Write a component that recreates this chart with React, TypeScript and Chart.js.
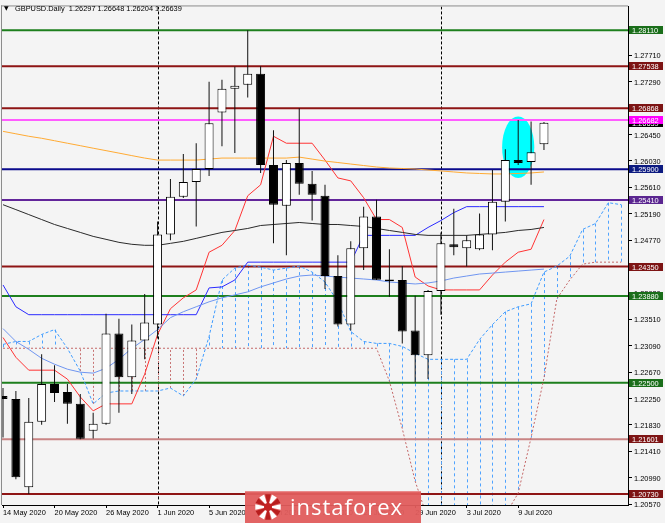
import React, { useEffect, useRef } from 'react';
import { Chart, registerables } from 'chart.js';

Chart.register(...registerables);

// ---------- data ----------
const symbolTitle = 'GBPUSD.Daily';

const openP = [1.22291,1.22244,1.20840,1.21881,1.22480,1.22354,1.22165,1.21739,1.21849,1.23284,1.22590,1.23174,1.23426,1.24861,1.25461,1.25697,1.25902,1.26801,1.27180,1.27243,1.27416,1.25965,1.25319,1.25997,1.25666,1.25476,1.24199,1.23426,1.24641,1.25145,1.24145,1.24136,1.23332,1.22937,1.23962,1.24704,1.24641,1.24625,1.24861,1.25382,1.26044,1.26013,1.26297];
const highP = [1.22417,1.22370,1.22259,1.22953,1.22780,1.22480,1.22322,1.22023,1.23600,1.23521,1.23426,1.23915,1.25066,1.25744,1.26139,1.26312,1.27290,1.27321,1.27527,1.28110,1.27538,1.26517,1.26044,1.26868,1.25871,1.25650,1.24530,1.24751,1.25303,1.25413,1.24625,1.24357,1.23884,1.23978,1.24893,1.25271,1.24846,1.25193,1.25886,1.26218,1.26682,1.26659,1.26648];
const lowP = [1.21629,1.20966,1.20730,1.21834,1.22196,1.21849,1.21601,1.21613,1.21834,1.22023,1.22322,1.22874,1.23206,1.24767,1.25440,1.24988,1.25792,1.26265,1.26155,1.27038,1.25839,1.24719,1.24530,1.25492,1.25082,1.23994,1.23395,1.23332,1.24294,1.24136,1.23868,1.23127,1.22510,1.22559,1.23584,1.24530,1.24350,1.24610,1.24609,1.25066,1.25965,1.25650,1.26204];
const closeP = [1.22244,1.20998,1.21881,1.22480,1.22338,1.22165,1.21610,1.21849,1.23284,1.22590,1.23174,1.23458,1.24861,1.25461,1.25697,1.25902,1.26628,1.27180,1.27227,1.27416,1.25965,1.25334,1.25997,1.25666,1.25492,1.24199,1.23426,1.24641,1.25145,1.24140,1.24115,1.23316,1.22937,1.23962,1.24719,1.24656,1.24767,1.24861,1.25382,1.26044,1.25997,1.26170,1.26639];

const tenkan = [1.23221,1.22906,1.22701,1.22701,1.22701,1.22559,1.22275,1.22054,1.22165,1.22165,1.22165,1.22638,1.23269,1.23679,1.23852,1.23978,1.24578,1.24688,1.24924,1.25476,1.25650,1.26423,1.26312,1.26312,1.26312,1.26044,1.25760,1.25713,1.25445,1.25098,1.25098,1.24972,1.24183,1.24041,1.23978,1.23978,1.23978,1.23978,1.24215,1.24420,1.24578,1.24625,1.25098];
const kijun = [1.24057,1.23710,1.23584,1.23584,1.23584,1.23584,1.23584,1.23584,1.23584,1.23584,1.23584,1.23584,1.23584,1.23584,1.23584,1.23584,1.24010,1.24026,1.24136,1.24420,1.24420,1.24420,1.24420,1.24420,1.24420,1.24420,1.24420,1.24420,1.24846,1.24846,1.24846,1.24846,1.24846,1.24972,1.25082,1.25208,1.25303,1.25303,1.25303,1.25303,1.25303,1.25303,1.25303];
const maBlue = [1.23363,1.23158,1.23032,1.22890,1.22796,1.22717,1.22669,1.22654,1.22732,1.22874,1.23048,1.23190,1.23347,1.23537,1.23631,1.23710,1.23789,1.23852,1.23899,1.23947,1.24026,1.24089,1.24152,1.24199,1.24215,1.24199,1.24183,1.24167,1.24152,1.24136,1.24104,1.24089,1.24073,1.24089,1.24120,1.24167,1.24199,1.24231,1.24246,1.24262,1.24278,1.24294,1.24309];
const maBlack = [1.25334,1.25256,1.25177,1.25098,1.25019,1.24956,1.24893,1.24830,1.24783,1.24735,1.24704,1.24688,1.24688,1.24719,1.24751,1.24798,1.24846,1.24893,1.24924,1.24956,1.25003,1.25019,1.25035,1.25051,1.25035,1.25019,1.25019,1.25003,1.24988,1.24956,1.24924,1.24893,1.24861,1.24846,1.24846,1.24846,1.24846,1.24861,1.24877,1.24893,1.24924,1.24940,1.24972];
const maOrange = [1.26501,1.26462,1.26423,1.26391,1.26352,1.26312,1.26273,1.26233,1.26194,1.26155,1.26115,1.26076,1.26044,1.26044,1.26044,1.26044,1.26060,1.26076,1.26076,1.26076,1.26076,1.26076,1.26076,1.26091,1.26060,1.26028,1.26005,1.25981,1.25957,1.25934,1.25918,1.25910,1.25902,1.25886,1.25871,1.25855,1.25839,1.25831,1.25823,1.25823,1.25831,1.25839,1.25855];
const spanA = [1.23111,1.23158,1.23158,1.23269,1.23347,1.23048,1.22685,1.22165,1.22338,1.22370,1.22370,1.22370,1.22370,1.22417,1.22291,1.22559,1.23237,1.24136,1.24325,1.24373,1.24341,1.24294,1.24325,1.24357,1.24262,1.24104,1.23789,1.23316,1.23158,1.23127,1.23127,1.23079,1.22969,1.22874,1.22874,1.22874,1.22874,1.23190,1.23426,1.23631,1.23710,1.23757,1.24262,1.24357,1.24514,1.24940,1.25035,1.25366,1.25334];
const spanB = [1.23050,1.23050,1.23050,1.23050,1.23050,1.23050,1.23050,1.23050,1.23050,1.23050,1.23050,1.23050,1.23050,1.23050,1.23050,1.23050,1.23050,1.23050,1.23050,1.23050,1.23050,1.23050,1.23050,1.23050,1.23050,1.23050,1.23050,1.23050,1.23050,1.23050,1.22527,1.21770,1.20935,1.20320,1.19768,1.19400,1.19300,1.19450,1.19847,1.20398,1.20745,1.21629,1.22575,1.23836,1.24136,1.24388,1.24420,1.24420,1.24420];

const xTickIdx = [0,4,8,12,16,20,24,28,32,36,40];
const xTickLabels = ['14 May 2020','20 May 2020','26 May 2020','1 Jun 2020','5 Jun 2020','11 Jun 2020','17 Jun 2020','23 Jun 2020','29 Jun 2020','3 Jul 2020','9 Jul 2020'];
const yTicks = [1.20570,1.20990,1.21410,1.21830,1.22250,1.22670,1.23090,1.23510,1.23930,1.24350,1.24770,1.25190,1.25610,1.26030,1.26450,1.26870,1.27290,1.27710,1.28130];

const levelPrices = [1.28110,1.27538,1.26868,1.26682,1.25900,1.25410,1.24350,1.23880,1.22500,1.21601,1.20730];
const monthStarts = [12, 34];
const highlightIdx = 40;
const highlightPrice = 1.26249;

// ---------- styles ----------
const levelLineColors = ['#1d7f1d','#8e1414','#8e1414','#ff5cff','#0a0a8c','#62259a','#8e1414','#1d7f1d','#1d7f1d','#c98484','#8e1414'];
const levelBoxColors = ['#1a6e1a','#7d1414','#7d1414','#ff00ff','#0c1a80','#5a2590','#7d1414','#1a6e1a','#1a6e1a','#7d1414','#7d1414'];
const X_MIN = -0.078, X_MAX = 48.525;
const Y_MIN = 1.20556, Y_MAX = 1.284885;
const FONT = "'Liberation Sans', Arial, sans-serif";
const FS = 7.4;

export default function App() {
  const canvasRef = useRef<HTMLCanvasElement | null>(null);

  useEffect(() => {
    const canvas = canvasRef.current;
    if (!canvas) return;
    const idx = openP.map((_, i) => i);
    const toPts = (arr: number[]) => arr.map((v, i) => ({ x: i, y: v }));
    const lineDs = (data: any[], color: string, order: number, extra: any = {}) => ({
      type: 'line', data, borderColor: color, borderWidth: 1, pointRadius: 0, tension: 0, fill: false, order, ...extra,
    });

    const datasets: any[] = [];
    levelPrices.forEach((v, k) =>
      datasets.push(lineDs([{ x: X_MIN, y: v }, { x: X_MAX, y: v }], levelLineColors[k], 60, { borderWidth: 2 })));
    datasets.push(lineDs(toPts(spanA), '#3f9cff', 50, { borderDash: [3, 2] }));
    datasets.push(lineDs(toPts(spanB), '#c46868', 50, { borderDash: [2, 2] }));
    datasets.push(lineDs(toPts(maOrange), '#ffaa33', 40));
    datasets.push(lineDs(toPts(maBlack), '#2a2a2a', 40));
    datasets.push(lineDs(toPts(maBlue), '#6f95f0', 40));
    datasets.push(lineDs(toPts(kijun), '#2a2aff', 40));
    datasets.push(lineDs(toPts(tenkan), '#ff3333', 40));
    datasets.push({
      type: 'bar', data: idx.map(i => ({ x: i, y: [lowP[i], highP[i]] })),
      backgroundColor: '#111', borderWidth: 0, barThickness: 1, grouped: false, inflateAmount: 0, order: 2,
    });
    datasets.push({
      type: 'bar', data: idx.map(i => ({ x: i, y: [openP[i], closeP[i]] })),
      backgroundColor: idx.map(i => (closeP[i] >= openP[i] ? '#ffffff' : '#000000')),
      borderColor: '#000', borderWidth: 1, borderSkipped: false, barThickness: 9, grouped: false, inflateAmount: 0, order: 1,
    });

    const decor = {
      id: 'decor',
      beforeDatasetsDraw(chart: any) {
        const { ctx, chartArea: a } = chart;
        const xs = chart.scales.x, ys = chart.scales.y;
        ctx.save();
        ctx.beginPath();
        ctx.rect(a.left, a.top, a.right - a.left, a.bottom - a.top);
        ctx.clip();
        // highlight ellipse
        const cx = xs.getPixelForValue(highlightIdx);
        const cy = ys.getPixelForValue(highlightPrice);
        const rx = xs.getPixelForValue(highlightIdx + 1.25) - cx;
        const ry = cy - ys.getPixelForValue(highlightPrice + 0.0049);
        ctx.fillStyle = '#00ffff';
        ctx.beginPath();
        ctx.ellipse(cx, cy, rx, ry, 0, 0, Math.PI * 2);
        ctx.fill();
        // month separators
        ctx.lineWidth = 1;
        ctx.strokeStyle = '#000';
        ctx.setLineDash([3, 2]);
        monthStarts.forEach(i => {
          const px = Math.round(xs.getPixelForValue(i)) + 0.5;
          ctx.beginPath(); ctx.moveTo(px, a.top); ctx.lineTo(px, a.bottom); ctx.stroke();
        });
        // cloud histogram
        spanA.forEach((va, i) => {
          const vb = spanB[i];
          const up = va >= vb;
          const px = Math.round(xs.getPixelForValue(i)) + 0.5;
          ctx.strokeStyle = up ? '#4fa3ff' : '#c87474';
          ctx.setLineDash(up ? [3, 3] : [2, 2]);
          ctx.beginPath();
          ctx.moveTo(px, ys.getPixelForValue(va));
          ctx.lineTo(px, ys.getPixelForValue(vb));
          ctx.stroke();
        });
        ctx.restore();
      },
      afterDraw(chart: any) {
        const { ctx, chartArea: a } = chart;
        const ys = chart.scales.y;
        ctx.save();
        // plot frame (top / left)
        ctx.fillStyle = '#8c8c8c';
        ctx.fillRect(a.left - 1, a.top - 1, a.right - a.left + 1, 1);
        ctx.fillRect(a.left - 1, a.top - 1, 1, a.bottom - a.top + 1);
        // price labels
        ctx.font = `${FS}px ${FONT}`;
        ctx.textBaseline = 'middle';
        ctx.textAlign = 'left';
        const box = (v: number, bg: string) => {
          const py = ys.getPixelForValue(v);
          ctx.fillStyle = bg;
          ctx.fillRect(a.right + 1, Math.round(py) - 4, 34, 8);
          ctx.fillStyle = '#fff';
          ctx.fillText(v.toFixed(5), a.right + 4, Math.round(py) + 0.5);
        };
        box(closeP[closeP.length - 1], '#000');
        levelPrices.forEach((v, k) => box(v, levelBoxColors[k]));
        // header
        ctx.fillStyle = '#000';
        ctx.font = `6px 'DejaVu Sans', sans-serif`;
        ctx.fillText('\u25BC', 4, 8);
        ctx.font = `${FS}px ${FONT}`;
        const o = openP.length - 1;
        ctx.fillText(`${symbolTitle}  ${openP[o].toFixed(5)} ${highP[o].toFixed(5)} ${lowP[o].toFixed(5)} ${closeP[o].toFixed(5)}`, 15, 8.5);
        // watermark
        ctx.fillStyle = 'rgba(224, 92, 92, 0.95)';
        ctx.fillRect(245, 491, 176, 32);
        ctx.fillStyle = 'rgba(255,255,255,0.25)';
        ctx.fillRect(245, 491, 176, 1);
        const icx = 268, icy = 507;
        for (let k = 0; k < 12; k++) {
          const ang = (k / 12) * Math.PI * 2;
          ctx.fillStyle = k % 2 ? '#b81e1e' : '#ffffff';
          ctx.beginPath();
          ctx.moveTo(icx, icy);
          ctx.lineTo(icx + Math.cos(ang - 0.22) * 13, icy + Math.sin(ang - 0.22) * 13);
          ctx.lineTo(icx + Math.cos(ang + 0.22) * 13, icy + Math.sin(ang + 0.22) * 13);
          ctx.closePath();
          ctx.fill();
        }
        ctx.fillStyle = '#c42222';
        ctx.beginPath(); ctx.arc(icx, icy, 4, 0, Math.PI * 2); ctx.fill();
        ctx.fillStyle = '#ffffff';
        ctx.font = `22px 'Open Sans', sans-serif`;
        ctx.textBaseline = 'alphabetic';
        (ctx as any).letterSpacing = '1px';
        ctx.fillText('instaforex', 290, 515);
        ctx.restore();
      },
    };

    const chart = new Chart(canvas, {
      type: 'bar',
      data: { datasets },
      options: {
        responsive: false,
        animation: false,
        devicePixelRatio: 1,
        events: [],
        layout: { padding: { left: 2, top: 2, right: 0, bottom: 0 } },
        plugins: { legend: { display: false }, tooltip: { enabled: false } },
        scales: {
          x: {
            type: 'linear', min: X_MIN, max: X_MAX, offset: false, position: 'bottom',
            grid: { drawOnChartArea: false, drawTicks: true, tickLength: 3, color: '#000', offset: false },
            border: { display: true, color: '#000', width: 1 },
            afterBuildTicks: (s: any) => { s.ticks = xTickIdx.map(v => ({ value: v })); },
            afterFit: (s: any) => { s.height = 18; },
            ticks: {
              autoSkip: false, maxRotation: 0, minRotation: 0, align: 'start', padding: 1, color: '#000',
              font: { family: FONT, size: FS },
              callback: (_v: any, i: number) => xTickLabels[i],
            },
          },
          y: {
            type: 'linear', position: 'right', min: Y_MIN, max: Y_MAX,
            grid: { drawOnChartArea: false, drawTicks: true, tickLength: 4, color: '#000' },
            border: { display: true, color: '#000', width: 1 },
            afterBuildTicks: (s: any) => { s.ticks = yTicks.map(v => ({ value: v })); },
            afterFit: (s: any) => { s.width = 37; },
            ticks: {
              padding: 2, color: '#000', labelOffset: 1,
              font: { family: FONT, size: FS },
              callback: (v: any) => Number(v).toFixed(5),
            },
          },
        },
      } as any,
      plugins: [decor],
    } as any);

    return () => chart.destroy();
  }, []);

  return (
    <div style={{ position: 'fixed', left: 0, top: 0, width: 665, height: 523, background: '#f4f4f4' }}>
      <canvas ref={canvasRef} width={665} height={523} style={{ display: 'block', width: 665, height: 523 }} />
    </div>
  );
}
